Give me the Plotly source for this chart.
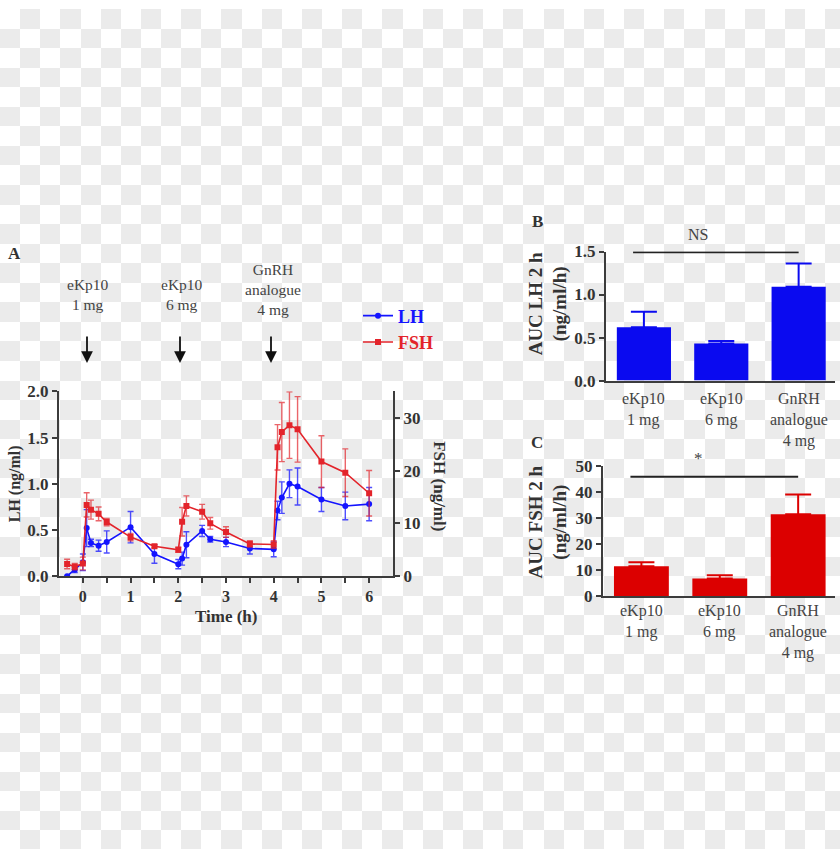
import base64
import plotly.graph_objects as go

W, H = 840, 859

# ---------------- data ----------------
time_h = [-0.33, -0.17, 0.0, 0.08, 0.17, 0.33, 0.5, 1.0, 1.5, 2.0, 2.08, 2.17, 2.5, 2.67,
          3.0, 3.5, 4.0, 4.08, 4.17, 4.33, 4.5, 5.0, 5.5, 6.0]
lh_mean = [0.0, 0.07, 0.15, 0.52, 0.36, 0.33, 0.37, 0.53, 0.24, 0.13, 0.19, 0.34, 0.49, 0.40,
           0.37, 0.30, 0.29, 0.71, 0.85, 1.0, 0.97, 0.83, 0.76, 0.78]
lh_err = [0.0, 0.03, 0.09, 0.20, 0.04, 0.06, 0.12, 0.17, 0.10, 0.05, 0.07, 0.14, 0.06, 0.03,
          0.05, 0.06, 0.08, 0.10, 0.17, 0.15, 0.20, 0.13, 0.15, 0.18]
fsh_mean = [2.3, 1.8, 2.4, 13.5, 12.6, 11.8, 10.25, 7.4, 5.65, 5.0, 10.3, 13.3, 12.2, 10.0,
            8.35, 6.1, 6.0, 24.4, 27.3, 28.6, 27.8, 21.7, 19.6, 15.7]
fsh_err = [0.9, 0.6, 1.2, 2.3, 1.8, 1.3, 0.7, 0.7, 0.3, 0.5, 2.7, 1.9, 1.4, 1.1,
           1.0, 0.6, 0.7, 4.3, 5.6, 6.3, 6.2, 4.9, 4.5, 4.3]

group_pos = [0, 1, 2]
dose_labels = ["eKp10<br>1 mg", "eKp10<br>6 mg", "GnRH<br>analogue<br>4 mg"]
auc_lh = [0.62, 0.43, 1.09]
auc_lh_err = [0.18, 0.03, 0.27]
auc_fsh = [11.6, 6.9, 31.6]
auc_fsh_err = [1.5, 1.2, 7.6]

time_ticks = [0, 0.5, 1, 1.5, 2, 2.5, 3, 3.5, 4, 4.5, 5, 5.5, 6]
time_ticktext = ["0", "", "1", "", "2", "", "3", "", "4", "", "5", "", "6"]

# ---------------- styles ----------------
SERIF = "Liberation Serif, Times New Roman, serif"
AX = "#3c3c3c"
TXT = "#333333"
LBL = "#444444"
BLUE = "#1414ff"
RED = "#e3242b"
BAR_BLUE = "#0a0af0"
BAR_RED = "#dc0000"


def px(x):
    return x / W


def py(y):
    return 1 - y / H


# checkerboard backdrop (transparent-image look)
rects = []
sx, sy = 20.13, 20.0
nc, nr = int(W / sx) + 2, int(H / sy) + 2
for r in range(nr):
    for c in range(nc):
        if (r + c) % 2 == 1:
            x0 = round(c * sx)
            x1 = round((c + 1) * sx)
            y0 = round(r * sy)
            y1 = round((r + 1) * sy)
            rects.append(f'<rect x="{x0}" y="{y0}" width="{x1 - x0}" height="{y1 - y0}"/>')
svg = (f'<svg xmlns="http://www.w3.org/2000/svg" width="{W}" height="{H}" '
       f'viewBox="0 0 {W} {H}" shape-rendering="crispEdges">'
       f'<rect width="{W}" height="{H}" fill="#ffffff"/><g fill="#ebebeb">' + "".join(rects) + '</g></svg>')
svg_uri = "data:image/svg+xml;base64," + base64.b64encode(svg.encode()).decode()

fig = go.Figure()

# Panel A
fig.add_trace(go.Scatter(
    x=time_h, y=lh_mean, mode="lines+markers", name='<span style="color:#1414ff">LH</span>',
    line=dict(color=BLUE, width=1.6), marker=dict(symbol="circle", size=6, color=BLUE),
    error_y=dict(type="data", array=lh_err, color="rgba(20,20,255,0.75)", thickness=1.4, width=3),
    xaxis="x", yaxis="y"))
fig.add_trace(go.Scatter(
    x=time_h, y=fsh_mean, mode="lines+markers", name='<span style="color:#e3242b">FSH</span>',
    line=dict(color=RED, width=1.6), marker=dict(symbol="square", size=6, color=RED),
    error_y=dict(type="data", array=fsh_err, color="rgba(227,36,43,0.7)", thickness=1.4, width=3),
    xaxis="x", yaxis="y2"))

# Panel B
fig.add_trace(go.Bar(
    x=group_pos, y=auc_lh, width=0.7, marker=dict(color=BAR_BLUE, line=dict(width=0)),
    error_y=dict(type="data", symmetric=False, array=auc_lh_err, arrayminus=[0, 0, 0],
                 color=BAR_BLUE, thickness=2, width=13),
    showlegend=False, xaxis="x3", yaxis="y3"))
# Panel C
fig.add_trace(go.Bar(
    x=group_pos, y=auc_fsh, width=0.7, marker=dict(color=BAR_RED, line=dict(width=0)),
    error_y=dict(type="data", symmetric=False, array=auc_fsh_err, arrayminus=[0, 0, 0],
                 color=BAR_RED, thickness=2, width=13),
    showlegend=False, xaxis="x4", yaxis="y4"))

tickfont = dict(family=SERIF, size=17, color=TXT, weight="bold")
common = dict(showgrid=False, zeroline=False, showline=True, linecolor=AX, linewidth=2,
              ticks="outside", ticklen=5, tickwidth=2, tickcolor=AX, tickfont=tickfont)
catax = {**common, "ticks": "", "showticklabels": False}

fig.update_layout(
    width=W, height=H, margin=dict(l=0, r=0, t=0, b=0),
    paper_bgcolor="white", plot_bgcolor="rgba(0,0,0,0)",
    font=dict(family=SERIF, color=TXT),
    images=[dict(source=svg_uri, xref="paper", yref="paper", x=0, y=1, sizex=1, sizey=1,
                 xanchor="left", yanchor="top", sizing="stretch", layer="below")],
    xaxis=dict(domain=[px(59), px(393)], range=[-0.5, 6.5], tickvals=time_ticks,
               ticktext=time_ticktext, anchor="y",
               **{**common, "tickfont": {**tickfont, "size": 16}}),
    yaxis=dict(domain=[py(580), py(391)], range=[0, 2.0], tickvals=[0, 0.5, 1.0, 1.5, 2.0],
               ticktext=["0.0", "0.5", "1.0", "1.5", "2.0"], anchor="x", **common),
    yaxis2=dict(overlaying="y", side="right", range=[0, 35], tickvals=[0, 10, 20, 30],
                anchor="x", **common),
    xaxis3=dict(domain=[px(606), px(835)], range=[-0.49, 2.47], tickvals=group_pos,
                anchor="y3", **catax),
    yaxis3=dict(domain=[py(380), py(248)], range=[0, 1.5], tickvals=[0, 0.5, 1.0, 1.5],
                ticktext=["0.0", "0.5", "1.0", "1.5"], anchor="x3", **common),
    xaxis4=dict(domain=[px(603), px(835)], range=[-0.49, 2.47], tickvals=group_pos,
                anchor="y4", **catax),
    yaxis4=dict(domain=[py(600.7), py(467.7)], range=[0, 50], tickvals=[0, 10, 20, 30, 40, 50],
                anchor="x4", **common),
    legend=dict(x=px(358), y=py(295), xanchor="left", yanchor="top", bgcolor="rgba(0,0,0,0)",
                font=dict(family=SERIF, size=18, weight="bold"), itemwidth=30,
                tracegroupgap=0),
    showlegend=True,
)

ann = []


def text(x, y, s, size=15, bold=False, angle=0, color=TXT, xanchor="center", yanchor="middle",
         xref="paper"):
    ann.append(dict(x=x if xref != "paper" else px(x), y=py(y), xref=xref, yref="paper", text=s,
                    showarrow=False, textangle=angle, xanchor=xanchor, yanchor=yanchor,
                    font=dict(family=SERIF, size=size, color=color,
                              weight="bold" if bold else "normal")))


text(14, 250, "A", 17, True)
text(537, 217, "B", 17, True)
text(537, 443, "C", 17, True)
text(88, 292, "eKp10<br>1 mg", 15.5, color=LBL)
text(182, 292, "eKp10<br>6 mg", 15.5, color=LBL)
text(273, 287, "GnRH<br>analogue<br>4 mg", 15.5, color=LBL)
text(15, 486, "LH (ng/ml)", 16, True, -90)
text(440, 488, "FSH (ng/ml)", 17, True, 90)
text(226, 621, "Time (h)", 17, True)
text(548, 302, "AUC LH 2 h<br>(ng/ml/h)", 19, True, -90)
text(548, 525, "AUC FSH 2 h<br>(ng/ml/h)", 19, True, -90)
text(698, 231, "NS", 16, color=LBL)
text(698, 460, "*", 17, color=LBL)

# category labels under the bars
for xv, s in zip(group_pos, dose_labels):
    text(xv, 388, s, 16, color=LBL, xref="x3", yanchor="top")
    text(xv, 604, s, 16, color=LBL, xref="x4", yanchor="top")

# arrows
for xa in [87, 180, 271]:
    ann.append(dict(x=px(xa), y=py(362), xref="paper", yref="paper", ax=0, ay=-28,
                    text="", showarrow=True, arrowhead=2, arrowsize=1.3, arrowwidth=1.8,
                    arrowcolor="#111111"))

fig.update_layout(annotations=ann)

fig.add_shape(type="line", xref="x3", yref="y3", x0=-0.14, x1=2.0, y0=1.49, y1=1.49,
              line=dict(color="#222222", width=2))
fig.add_shape(type="line", xref="x4", yref="y4", x0=-0.14, x1=2.0, y0=46, y1=46,
              line=dict(color="#222222", width=2))

fig.write_html("out.html")
